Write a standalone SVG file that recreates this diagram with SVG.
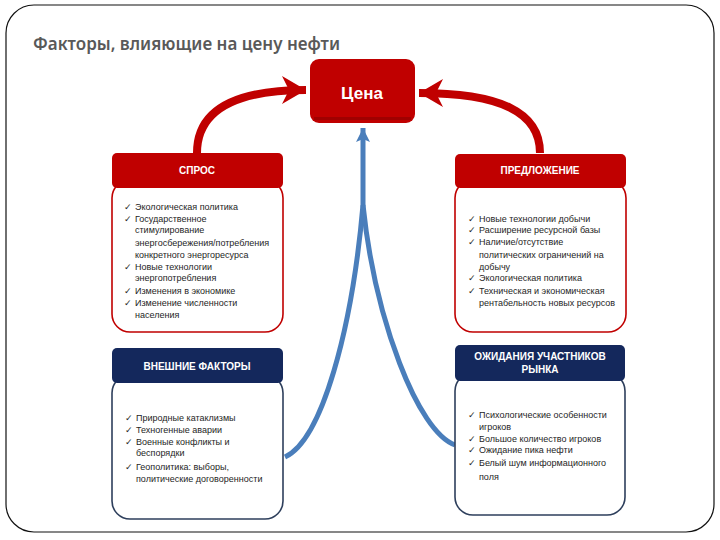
<svg xmlns="http://www.w3.org/2000/svg" width="720" height="540" viewBox="0 0 720 540">
<style>
.title{font-family:"Noto Sans","Open Sans",sans-serif;font-size:17px;font-weight:600;fill:#595959}
.hdr{font-family:"Liberation Sans",Arial,sans-serif;font-size:10px;font-weight:bold;fill:#fff;text-anchor:middle}
.price{font-family:"Liberation Sans",Arial,sans-serif;font-size:17px;font-weight:bold;fill:#fff;text-anchor:middle}
.item{font-family:"Liberation Sans",Arial,sans-serif;font-size:9px;fill:#1e1e1e}
.chk{font-family:"DejaVu Sans",sans-serif;font-size:9px;fill:#262626}
.redh{fill:#c00000}
.blueh{fill:#14285c}
.redb{fill:#fff;stroke:#c00000;stroke-width:1.6}
.blueb{fill:#fff;stroke:#2e3f5c;stroke-width:1.6}
.redarr{fill:none;stroke:#c00000;stroke-width:8}
.bluearr{fill:none;stroke:#4a7ebb;stroke-width:5}
</style>
<defs>
<marker id="redhead" markerUnits="userSpaceOnUse" markerWidth="32" markerHeight="32" viewBox="0 0 32 32" refX="24" refY="16" orient="auto">
<path d="M0,2 L24,16 L0,30 L7,16 Z" fill="#c00000"/>
</marker>
<marker id="bluehead" markerUnits="userSpaceOnUse" markerWidth="20" markerHeight="20" viewBox="0 0 20 20" refX="14" refY="10" orient="auto">
<path d="M0,3 L14,10 L0,17 L3,10 Z" fill="#4a7ebb"/>
</marker>
</defs>
<rect x="6" y="5" width="708" height="527" rx="28" fill="#fff" stroke="#111" stroke-width="1.2"/>
<text class="title" x="33" y="50">Факторы, влияющие на цену нефти</text>

<g id="connectors">
<path class="redarr" d="M197,153 C197,110 235,90 306,90" marker-end="url(#redhead)"/>
<path class="redarr" d="M540,153 C540,112 500,93 419,93" marker-end="url(#redhead)"/>
<path class="bluearr" d="M285,457 C322,440 352,330 363,205 L363,128" marker-end="url(#bluehead)"/>
<path class="bluearr" d="M455,445 C418,432 375,320 363,205"/>
</g>

<g id="price">
<rect x="310" y="59" width="105" height="64" rx="9" fill="#c00000"/>
<rect x="314" y="117" width="97" height="3" fill="#a00000"/>
<text class="price" x="362" y="99">Цена</text>
</g>

<g id="demand">
<rect class="redb" x="112" y="180" width="171" height="152" rx="18"/>
<rect class="redh" x="112" y="153" width="171" height="35" rx="5"/>
<text class="hdr" x="197" y="174">СПРОС</text>
<text class="chk" x="124" y="210">✓</text><text class="item" x="135" y="210">Экологическая политика</text>
<text class="chk" x="124" y="222">✓</text><text class="item" x="135" y="222">Государственное</text>
<text class="item" x="135" y="233">стимулирование</text>
<text class="item" x="135" y="246">энергосбережения/потребления</text>
<text class="item" x="135" y="258">конкретного энергоресурса</text>
<text class="chk" x="124" y="270">✓</text><text class="item" x="135" y="270">Новые технологии</text>
<text class="item" x="135" y="281">энергопотребления</text>
<text class="chk" x="124" y="294">✓</text><text class="item" x="135" y="294">Изменения в экономике</text>
<text class="chk" x="124" y="306">✓</text><text class="item" x="135" y="306">Изменение численности</text>
<text class="item" x="135" y="318">населения</text>
</g>

<g id="supply">
<rect class="redb" x="455" y="180" width="171" height="152" rx="18"/>
<rect class="redh" x="455" y="154" width="171" height="34" rx="5"/>
<text class="hdr" x="540" y="174">ПРЕДЛОЖЕНИЕ</text>
<text class="chk" x="468" y="222">✓</text><text class="item" x="479" y="222">Новые технологии добычи</text>
<text class="chk" x="468" y="233">✓</text><text class="item" x="479" y="233">Расширение ресурсной базы</text>
<text class="chk" x="468" y="245">✓</text><text class="item" x="479" y="245">Наличие/отсутствие</text>
<text class="item" x="479" y="258">политических ограничений на</text>
<text class="item" x="479" y="270">добычу</text>
<text class="chk" x="468" y="281">✓</text><text class="item" x="479" y="281">Экологическая политика</text>
<text class="chk" x="468" y="294">✓</text><text class="item" x="479" y="294">Техническая и экономическая</text>
<text class="item" x="479" y="306">рентабельность новых ресурсов</text>
</g>

<g id="external">
<rect class="blueb" x="112" y="375" width="171" height="144" rx="18"/>
<rect class="blueh" x="112" y="348" width="171" height="35" rx="5"/>
<text class="hdr" x="197" y="370">ВНЕШНИЕ ФАКТОРЫ</text>
<text class="chk" x="125" y="421">✓</text><text class="item" x="136" y="421">Природные катаклизмы</text>
<text class="chk" x="125" y="433">✓</text><text class="item" x="136" y="433">Техногенные аварии</text>
<text class="chk" x="125" y="445">✓</text><text class="item" x="136" y="445">Военные конфликты и</text>
<text class="item" x="136" y="456">беспорядки</text>
<text class="chk" x="125" y="470">✓</text><text class="item" x="136" y="470">Геополитика: выборы,</text>
<text class="item" x="136" y="482">политические договоренности</text>
</g>

<g id="expectations">
<rect class="blueb" x="455" y="373" width="170" height="142" rx="18"/>
<rect class="blueh" x="455" y="345" width="170" height="36" rx="5"/>
<text class="hdr" x="540" y="360">ОЖИДАНИЯ УЧАСТНИКОВ</text>
<text class="hdr" x="540" y="373">РЫНКА</text>
<text class="chk" x="468" y="418">✓</text><text class="item" x="479" y="418">Психологические особенности</text>
<text class="item" x="479" y="430">игроков</text>
<text class="chk" x="468" y="442">✓</text><text class="item" x="479" y="442">Большое количество игроков</text>
<text class="chk" x="468" y="453">✓</text><text class="item" x="479" y="453">Ожидание пика нефти</text>
<text class="chk" x="468" y="466">✓</text><text class="item" x="479" y="466">Белый шум информационного</text>
<text class="item" x="479" y="480">поля</text>
</g>
</svg>
